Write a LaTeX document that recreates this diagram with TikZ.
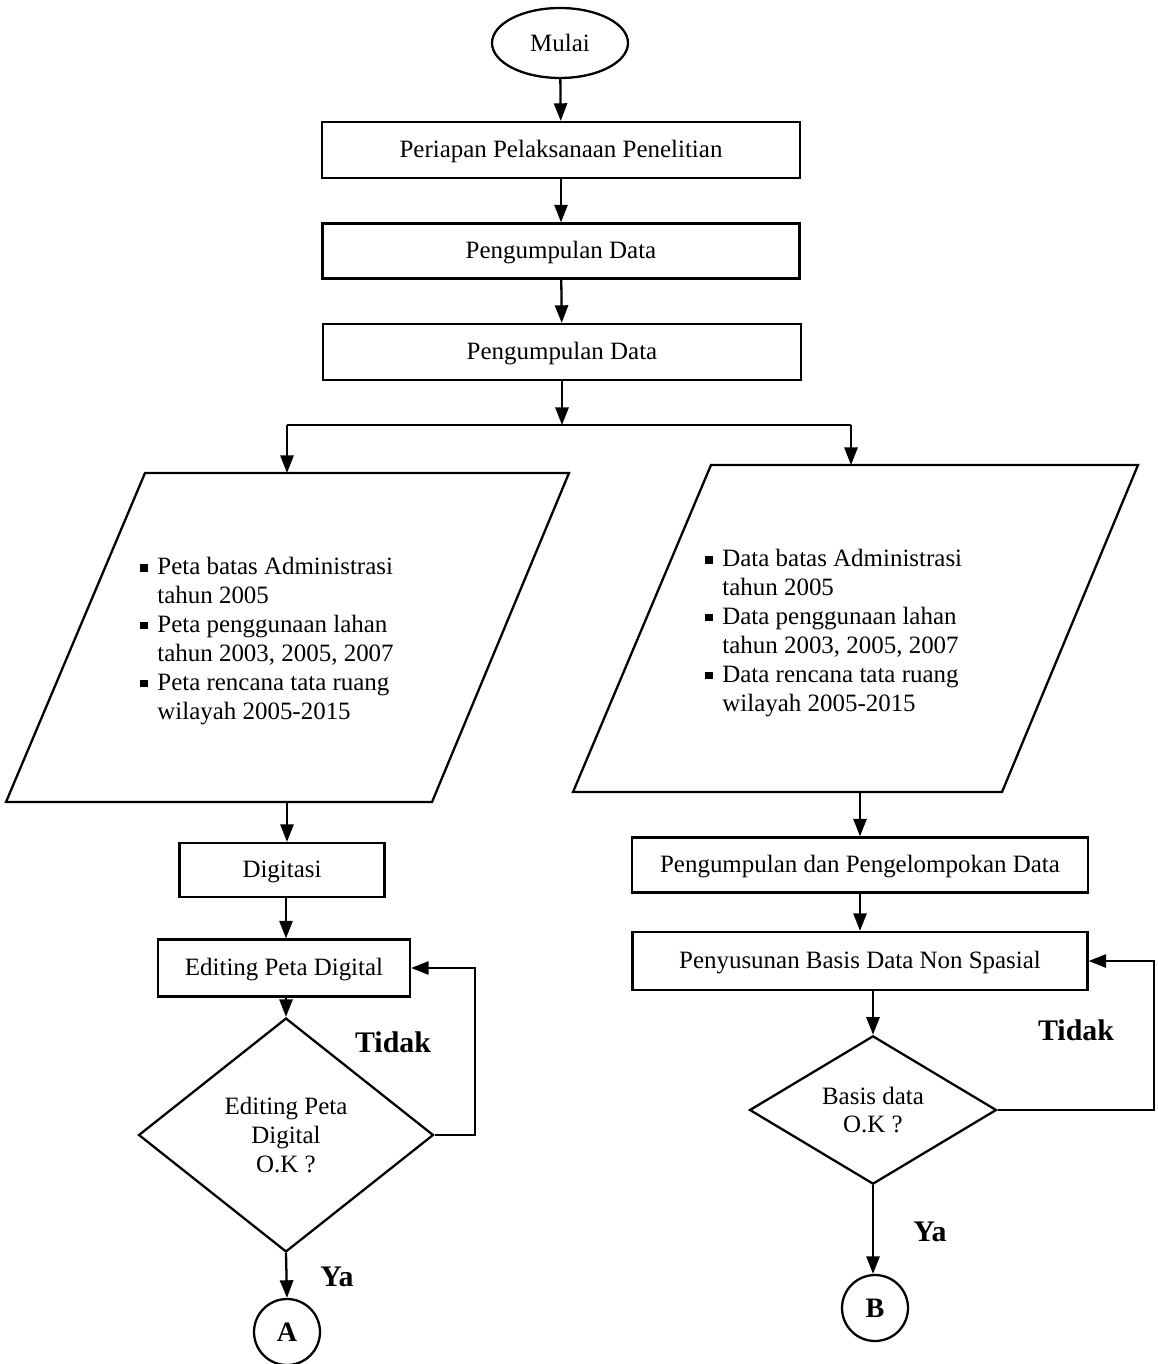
\documentclass[tikz,border=0pt]{standalone}
\usepackage{fontspec}
\setmainfont{Liberation Serif}
\usetikzlibrary{arrows.meta,shapes.geometric}

% bullet square and hanging indent for the list items
\newcommand{\sqbul}{\makebox[9.7pt][l]{\rule[1.8pt]{4.2pt}{4.2pt}}}
\newcommand{\hang}{\hspace*{9.7pt}}

\begin{document}
\begin{tikzpicture}[x=0.02cm,y=-0.02cm,
  every node/.style={font=\fontsize{14.2}{16.4}\selectfont},
  ln/.style={line width=1.3pt},
  arr/.style={line width=1.3pt,-{Triangle[length=10pt,width=7.5pt]}},
  procbox/.style={draw,line width=1.3pt,rectangle,inner sep=0pt,text height=12pt,text depth=3pt},
  decide/.style={draw,line width=1.3pt,diamond,inner sep=0pt,align=center},
  conn/.style={draw,line width=1.3pt,circle,inner sep=0pt,minimum size=1.32cm,font=\fontsize{16}{18}\selectfont\bfseries},
  lbl/.style={font=\fontsize{17}{19}\selectfont\bfseries}
]
\useasboundingbox (0,0) rectangle (1157,1364);

% main column
\node[draw,line width=1.3pt,ellipse,minimum width=2.72cm,minimum height=1.4cm,inner sep=0pt] (start) at (560,43) {Mulai};
\node[procbox,minimum width=9.56cm,minimum height=1.12cm] (b1) at (561,150) {Periapan Pelaksanaan Penelitian};
\node[procbox,minimum width=9.54cm,minimum height=1.10cm] (b2) at (561,251) {Pengumpulan Data};
\node[procbox,minimum width=9.56cm,minimum height=1.12cm] (b3) at (562,352) {Pengumpulan Data};

\draw[arr] (start) -- (b1);
\draw[arr] (b1) -- (b2);
\draw[arr] (b2) -- (b3);

% split into two branches
\coordinate (split) at (562,425);
\coordinate (sl) at (287,425);
\coordinate (sr) at (851,425);
\draw[arr] (b3) -- (split);
\draw[ln] (sl) -- (sr);

% left input parallelogram
\coordinate (lpA) at (145,473);
\coordinate (lpB) at (569,473);
\coordinate (lpC) at (432,802);
\coordinate (lpD) at (6,802);
\draw[ln,line join=miter] (lpA) -- (lpB) -- (lpC) -- (lpD) -- cycle;
\coordinate (lptop) at (287,473);
\coordinate (lpbot) at (287,802);
\draw[arr] (sl) -- (lptop);
\node[anchor=west,align=left,inner sep=0pt] (ltext) at (140,641)
  {\sqbul Peta batas Administrasi\\
   \hang tahun 2005\\
   \sqbul Peta penggunaan lahan\\
   \hang tahun 2003, 2005, 2007\\
   \sqbul Peta rencana tata ruang\\
   \hang wilayah 2005-2015};

% right input parallelogram
\coordinate (rpA) at (711,465);
\coordinate (rpB) at (1138,465);
\coordinate (rpC) at (1002,792);
\coordinate (rpD) at (573,792);
\draw[ln,line join=miter] (rpA) -- (rpB) -- (rpC) -- (rpD) -- cycle;
\coordinate (rptop) at (851,465);
\coordinate (rpbot) at (860,792);
\draw[arr] (sr) -- (rptop);
\node[anchor=west,align=left,inner sep=0pt] (rtext) at (705,633)
  {\sqbul Data batas Administrasi\\
   \hang tahun 2005\\
   \sqbul Data penggunaan lahan\\
   \hang tahun 2003, 2005, 2007\\
   \sqbul Data rencana tata ruang\\
   \hang wilayah 2005-2015};

% left branch
\node[procbox,minimum width=4.1cm,minimum height=1.08cm] (dig) at (282,870) {Digitasi};
\node[procbox,minimum width=5.04cm,minimum height=1.14cm] (edit) at (284,968) {Editing Peta Digital};
\node[decide,minimum width=5.9cm,minimum height=4.68cm] (ld) at (286,1135) {Editing Peta\\Digital\\O.K ?};
\node[conn] (ca) at (287,1332) {A};

\draw[arr] (lpbot) -- (dig.north -| lpbot);
\draw[arr] (dig.south -| ld.north) -- (edit.north -| ld.north);
\draw[arr] (edit.south -| ld.north) -- (ld.north);
\draw[arr] (ld.south) -- (ca.north);
\coordinate (lloop) at (475,1135);
\draw[arr] (ld.east) -- (lloop) |- (edit.east);
\node[lbl] (ltidak) at (393,1042) {Tidak};
\node[lbl] (lya) at (337,1277) {Ya};

% right branch
\node[procbox,minimum width=9.12cm,minimum height=1.10cm] (kel) at (860,865) {Pengumpulan dan Pengelompokan Data};
\node[procbox,minimum width=9.10cm,minimum height=1.16cm] (sus) at (860,961) {Penyusunan Basis Data Non Spasial};
\node[decide,minimum width=4.94cm,minimum height=2.8cm] (rd) at (873,1110) {Basis data\\O.K ?};
\node[conn] (cb) at (875,1308) {B};

\draw[arr] (rpbot) -- (kel.north -| rpbot);
\draw[arr] (kel) -- (sus);
\draw[arr] (sus.south -| rd.north) -- (rd.north);
\draw[arr] (rd.south) -- (cb.north -| rd.south);
\coordinate (rloop) at (1154,1110);
\draw[arr] (rd.east) -- (rloop) |- (sus.east);
\node[lbl] (rtidak) at (1076,1030) {Tidak};
\node[lbl] (rya) at (930,1232) {Ya};

\end{tikzpicture}
\end{document}
